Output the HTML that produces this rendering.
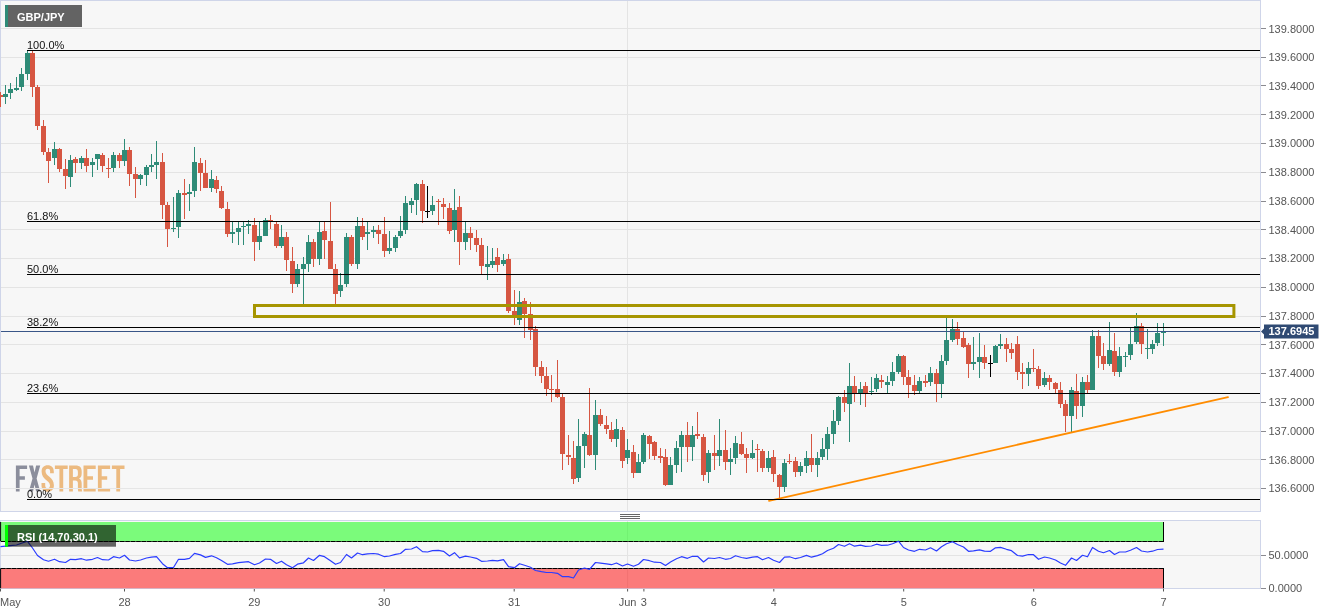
<!DOCTYPE html>
<html><head><meta charset="utf-8"><title>GBP/JPY</title>
<style>
html,body{margin:0;padding:0;background:#fff;}
body{width:1331px;height:615px;overflow:hidden;}
svg{display:block;will-change:transform;}
text{font-family:"Liberation Sans",sans-serif;}
</style></head><body>
<svg width="1331" height="615" viewBox="0 0 1331 615">
<rect x="0" y="0" width="1331" height="615" fill="#fff"/>
<rect x="0.5" y="0.5" width="1260" height="511" fill="#f7f7f7" stroke="#cfd5e9" stroke-width="1"/>
<rect x="0.5" y="520.5" width="1260" height="68" fill="#f7f7f7" stroke="#cfd5e9" stroke-width="1"/>
<defs><clipPath id="cm"><rect x="0" y="1" width="1260" height="510"/></clipPath><clipPath id="cr"><rect x="0" y="521" width="1259" height="67.5"/></clipPath></defs>
<g stroke="#e4e4e4" stroke-width="1" clip-path="url(#cm)">
<line x1="1" x2="1260" y1="28.50" y2="28.50"/>
<line x1="1" x2="1260" y1="57.50" y2="57.50"/>
<line x1="1" x2="1260" y1="85.50" y2="85.50"/>
<line x1="1" x2="1260" y1="114.50" y2="114.50"/>
<line x1="1" x2="1260" y1="143.50" y2="143.50"/>
<line x1="1" x2="1260" y1="172.50" y2="172.50"/>
<line x1="1" x2="1260" y1="201.50" y2="201.50"/>
<line x1="1" x2="1260" y1="229.50" y2="229.50"/>
<line x1="1" x2="1260" y1="258.50" y2="258.50"/>
<line x1="1" x2="1260" y1="287.50" y2="287.50"/>
<line x1="1" x2="1260" y1="316.50" y2="316.50"/>
<line x1="1" x2="1260" y1="344.50" y2="344.50"/>
<line x1="1" x2="1260" y1="373.50" y2="373.50"/>
<line x1="1" x2="1260" y1="402.50" y2="402.50"/>
<line x1="1" x2="1260" y1="431.50" y2="431.50"/>
<line x1="1" x2="1260" y1="459.50" y2="459.50"/>
<line x1="1" x2="1260" y1="488.50" y2="488.50"/>
<line x1="627.5" x2="627.5" y1="1" y2="511"/>
</g>
<g stroke="#e4e4e4" stroke-width="1"><line x1="1" x2="1260" y1="555.5" y2="555.5"/><line x1="627.5" x2="627.6" y1="521" y2="588"/></g>
<g id="logo">
<g fill="#8b8e9c">
<path d="M15.9,465.6H27.1V469H19.6V476.2H24.9V479.7H19.6V491.4H15.9Z"/>
<path d="M28.9,465.6H33L34.55,472.6L36.1,465.6H40.2L36.6,478.5L40.2,491.4H36.1L34.55,484.4L33,491.4H28.9L32.5,478.5Z"/>
</g>
<g fill="#ecba80">
<path d="M47.7,465.3C51.6,465.3 53.8,467.6 53.8,471.5V473.2H50.1V471.3C50.1,469.6 49.3,468.8 47.8,468.8C46.3,468.8 45.5,469.6 45.5,471.3C45.5,476.3 53.9,477.2 53.9,485.2C53.9,489.2 51.7,491.7 47.7,491.7C43.7,491.7 41.5,489.2 41.5,485.2V483H45.2V485.5C45.2,487.2 46,488.1 47.6,488.1C49.2,488.1 50,487.2 50,485.5C50,480.5 41.6,479.6 41.6,471.5C41.6,467.6 43.8,465.3 47.7,465.3Z"/>
<path d="M54.9,465.6H67.7V469H63.2V491.4H59.4V469H54.9Z"/>
<path d="M69.1,465.6H75.6C79.8,465.6 81.7,467.6 81.7,471.6V473.5C81.7,476.1 80.8,477.8 79,478.6C81,479.4 81.7,481.2 81.7,483.8V488C81.7,489.3 81.8,490.3 82.2,491.4H78.3C78.1,490.7 77.9,490.3 77.9,488V483.6C77.9,481.3 77.1,480.5 75.1,480.5H72.9V491.4H69.1ZM72.9,469V477H75.3C77,477 77.9,476.3 77.9,474.3V472C77.9,470 77.2,469 75.5,469Z"/>
<path d="M83.5,465.6H95.7V469H87.3V476.2H93V479.7H87.3V487.9H95.7V491.4H83.5Z"/>
<path d="M97.9,465.6H110.1V469H101.7V476.2H107.2V479.7H101.7V487.9H110.1V491.4H97.9Z"/>
<path d="M111.9,465.6H124.5V469H120.1V491.4H116.3V469H111.9Z"/>
</g>
</g>
<line x1="1" x2="1260" y1="488.5" y2="488.5" stroke="#e6e6e6" stroke-width="1.2"/>
<g clip-path="url(#cm)">
<rect x="0.0" y="92" width="1" height="15" fill="#d65642"/>
<rect x="-2.0" y="95" width="5" height="2" fill="#d65642"/>
<rect x="5.0" y="85" width="1" height="19" fill="#2e8b77"/>
<rect x="3.0" y="94" width="5" height="3" fill="#2e8b77"/>
<rect x="10.0" y="83" width="1" height="16" fill="#2e8b77"/>
<rect x="8.0" y="89" width="5" height="4" fill="#2e8b77"/>
<rect x="16.0" y="77" width="1" height="14" fill="#2e8b77"/>
<rect x="14.0" y="88" width="5" height="2" fill="#2e8b77"/>
<rect x="21.0" y="68" width="1" height="23" fill="#2e8b77"/>
<rect x="19.0" y="74" width="5" height="13" fill="#2e8b77"/>
<rect x="27.0" y="50" width="1" height="30" fill="#2e8b77"/>
<rect x="25.0" y="53" width="5" height="21" fill="#2e8b77"/>
<rect x="32.0" y="51" width="1" height="46" fill="#d65642"/>
<rect x="30.0" y="53" width="5" height="34" fill="#d65642"/>
<rect x="37.0" y="85" width="1" height="45" fill="#d65642"/>
<rect x="35.0" y="87" width="5" height="39" fill="#d65642"/>
<rect x="43.0" y="120" width="1" height="35" fill="#d65642"/>
<rect x="41.0" y="126" width="5" height="26" fill="#d65642"/>
<rect x="48.0" y="148" width="1" height="35" fill="#d65642"/>
<rect x="46.0" y="152" width="5" height="9" fill="#d65642"/>
<rect x="54.0" y="142" width="1" height="23" fill="#2e8b77"/>
<rect x="52.0" y="149" width="5" height="9" fill="#2e8b77"/>
<rect x="59.0" y="148" width="1" height="24" fill="#d65642"/>
<rect x="57.0" y="149" width="5" height="20" fill="#d65642"/>
<rect x="65.0" y="159" width="1" height="30" fill="#d65642"/>
<rect x="63.0" y="169" width="5" height="7" fill="#d65642"/>
<rect x="70.0" y="155" width="1" height="32" fill="#2e8b77"/>
<rect x="68.0" y="160" width="5" height="17" fill="#2e8b77"/>
<rect x="75.0" y="157" width="1" height="16" fill="#d65642"/>
<rect x="73.0" y="159" width="5" height="4" fill="#d65642"/>
<rect x="81.0" y="156" width="1" height="13" fill="#2e8b77"/>
<rect x="79.0" y="158" width="5" height="5" fill="#2e8b77"/>
<rect x="86.0" y="149" width="1" height="23" fill="#d65642"/>
<rect x="84.0" y="158" width="5" height="8" fill="#d65642"/>
<rect x="92.0" y="158" width="1" height="19" fill="#2e8b77"/>
<rect x="90.0" y="162" width="5" height="3" fill="#2e8b77"/>
<rect x="97.0" y="154" width="1" height="16" fill="#2e8b77"/>
<rect x="95.0" y="154" width="5" height="5" fill="#2e8b77"/>
<rect x="102.0" y="153" width="1" height="19" fill="#d65642"/>
<rect x="100.0" y="155" width="5" height="11" fill="#d65642"/>
<rect x="108.0" y="158" width="1" height="20" fill="#d65642"/>
<rect x="106.0" y="168" width="5" height="1" fill="#d65642"/>
<rect x="113.0" y="152" width="1" height="20" fill="#2e8b77"/>
<rect x="111.0" y="155" width="5" height="13" fill="#2e8b77"/>
<rect x="119.0" y="153" width="1" height="15" fill="#d65642"/>
<rect x="117.0" y="155" width="5" height="6" fill="#d65642"/>
<rect x="124.0" y="139" width="1" height="27" fill="#2e8b77"/>
<rect x="122.0" y="150" width="5" height="11" fill="#2e8b77"/>
<rect x="129.0" y="147" width="1" height="39" fill="#d65642"/>
<rect x="127.0" y="150" width="5" height="24" fill="#d65642"/>
<rect x="135.0" y="167" width="1" height="31" fill="#d65642"/>
<rect x="133.0" y="174" width="5" height="5" fill="#d65642"/>
<rect x="140.0" y="174" width="1" height="11" fill="#2e8b77"/>
<rect x="138.0" y="175" width="5" height="4" fill="#2e8b77"/>
<rect x="146.0" y="165" width="1" height="21" fill="#2e8b77"/>
<rect x="144.0" y="167" width="5" height="8" fill="#2e8b77"/>
<rect x="151.0" y="154" width="1" height="18" fill="#2e8b77"/>
<rect x="149.0" y="165" width="5" height="2" fill="#2e8b77"/>
<rect x="156.0" y="141" width="1" height="38" fill="#2e8b77"/>
<rect x="154.0" y="162" width="5" height="3" fill="#2e8b77"/>
<rect x="162.0" y="153" width="1" height="66" fill="#d65642"/>
<rect x="160.0" y="162" width="5" height="43" fill="#d65642"/>
<rect x="167.0" y="202" width="1" height="45" fill="#d65642"/>
<rect x="165.0" y="205" width="5" height="24" fill="#d65642"/>
<rect x="173.0" y="197" width="1" height="35" fill="#2e8b77"/>
<rect x="171.0" y="228" width="5" height="1" fill="#2e8b77"/>
<rect x="178.0" y="190" width="1" height="48" fill="#2e8b77"/>
<rect x="176.0" y="193" width="5" height="34" fill="#2e8b77"/>
<rect x="184.0" y="179" width="1" height="40" fill="#d65642"/>
<rect x="182.0" y="193" width="5" height="2" fill="#d65642"/>
<rect x="189.0" y="184" width="1" height="27" fill="#2e8b77"/>
<rect x="187.0" y="192" width="5" height="2" fill="#2e8b77"/>
<rect x="194.0" y="147" width="1" height="50" fill="#2e8b77"/>
<rect x="192.0" y="162" width="5" height="29" fill="#2e8b77"/>
<rect x="200.0" y="158" width="1" height="33" fill="#d65642"/>
<rect x="198.0" y="163" width="5" height="10" fill="#d65642"/>
<rect x="205.0" y="160" width="1" height="28" fill="#d65642"/>
<rect x="203.0" y="173" width="5" height="15" fill="#d65642"/>
<rect x="211.0" y="170" width="1" height="22" fill="#2e8b77"/>
<rect x="209.0" y="179" width="5" height="9" fill="#2e8b77"/>
<rect x="216.0" y="176" width="1" height="17" fill="#d65642"/>
<rect x="214.0" y="180" width="5" height="9" fill="#d65642"/>
<rect x="221.0" y="186" width="1" height="23" fill="#d65642"/>
<rect x="219.0" y="191" width="5" height="17" fill="#d65642"/>
<rect x="227.0" y="202" width="1" height="35" fill="#d65642"/>
<rect x="225.0" y="209" width="5" height="25" fill="#d65642"/>
<rect x="232.0" y="222" width="1" height="21" fill="#2e8b77"/>
<rect x="230.0" y="232" width="5" height="2" fill="#2e8b77"/>
<rect x="238.0" y="222" width="1" height="23" fill="#2e8b77"/>
<rect x="236.0" y="228" width="5" height="4" fill="#2e8b77"/>
<rect x="243.0" y="222" width="1" height="23" fill="#2e8b77"/>
<rect x="241.0" y="226" width="5" height="1" fill="#2e8b77"/>
<rect x="248.0" y="220" width="1" height="14" fill="#2e8b77"/>
<rect x="246.0" y="224" width="5" height="2" fill="#2e8b77"/>
<rect x="254.0" y="218" width="1" height="43" fill="#d65642"/>
<rect x="252.0" y="225" width="5" height="17" fill="#d65642"/>
<rect x="259.0" y="221" width="1" height="29" fill="#2e8b77"/>
<rect x="257.0" y="236" width="5" height="6" fill="#2e8b77"/>
<rect x="265.0" y="218" width="1" height="18" fill="#2e8b77"/>
<rect x="263.0" y="220" width="5" height="16" fill="#2e8b77"/>
<rect x="270.0" y="215" width="1" height="14" fill="#d65642"/>
<rect x="268.0" y="220" width="5" height="2" fill="#d65642"/>
<rect x="276.0" y="222" width="1" height="26" fill="#d65642"/>
<rect x="274.0" y="224" width="5" height="22" fill="#d65642"/>
<rect x="281.0" y="225" width="1" height="23" fill="#2e8b77"/>
<rect x="279.0" y="237" width="5" height="9" fill="#2e8b77"/>
<rect x="286.0" y="232" width="1" height="39" fill="#d65642"/>
<rect x="284.0" y="237" width="5" height="23" fill="#d65642"/>
<rect x="292.0" y="247" width="1" height="46" fill="#d65642"/>
<rect x="290.0" y="261" width="5" height="23" fill="#d65642"/>
<rect x="297.0" y="264" width="1" height="23" fill="#2e8b77"/>
<rect x="295.0" y="269" width="5" height="15" fill="#2e8b77"/>
<rect x="303.0" y="257" width="1" height="47" fill="#2e8b77"/>
<rect x="301.0" y="264" width="5" height="5" fill="#2e8b77"/>
<rect x="308.0" y="235" width="1" height="37" fill="#2e8b77"/>
<rect x="306.0" y="242" width="5" height="22" fill="#2e8b77"/>
<rect x="313.0" y="239" width="1" height="28" fill="#d65642"/>
<rect x="311.0" y="242" width="5" height="17" fill="#d65642"/>
<rect x="319.0" y="222" width="1" height="43" fill="#2e8b77"/>
<rect x="317.0" y="232" width="5" height="27" fill="#2e8b77"/>
<rect x="324.0" y="222" width="1" height="37" fill="#d65642"/>
<rect x="322.0" y="231" width="5" height="9" fill="#d65642"/>
<rect x="330.0" y="202" width="1" height="67" fill="#d65642"/>
<rect x="328.0" y="241" width="5" height="28" fill="#d65642"/>
<rect x="335.0" y="264" width="1" height="40" fill="#d65642"/>
<rect x="333.0" y="269" width="5" height="25" fill="#d65642"/>
<rect x="340.0" y="273" width="1" height="24" fill="#2e8b77"/>
<rect x="338.0" y="285" width="5" height="6" fill="#2e8b77"/>
<rect x="346.0" y="233" width="1" height="54" fill="#2e8b77"/>
<rect x="344.0" y="237" width="5" height="47" fill="#2e8b77"/>
<rect x="351.0" y="235" width="1" height="31" fill="#d65642"/>
<rect x="349.0" y="237" width="5" height="27" fill="#d65642"/>
<rect x="357.0" y="217" width="1" height="52" fill="#2e8b77"/>
<rect x="355.0" y="226" width="5" height="38" fill="#2e8b77"/>
<rect x="362.0" y="218" width="1" height="22" fill="#d65642"/>
<rect x="360.0" y="226" width="5" height="11" fill="#d65642"/>
<rect x="367.0" y="221" width="1" height="29" fill="#2e8b77"/>
<rect x="365.0" y="232" width="5" height="2" fill="#2e8b77"/>
<rect x="373.0" y="226" width="1" height="12" fill="#2e8b77"/>
<rect x="371.0" y="230" width="5" height="2" fill="#2e8b77"/>
<rect x="378.0" y="225" width="1" height="19" fill="#d65642"/>
<rect x="376.0" y="230" width="5" height="4" fill="#d65642"/>
<rect x="384.0" y="217" width="1" height="40" fill="#d65642"/>
<rect x="382.0" y="234" width="5" height="17" fill="#d65642"/>
<rect x="389.0" y="231" width="1" height="23" fill="#2e8b77"/>
<rect x="387.0" y="248" width="5" height="3" fill="#2e8b77"/>
<rect x="395.0" y="235" width="1" height="17" fill="#2e8b77"/>
<rect x="393.0" y="237" width="5" height="11" fill="#2e8b77"/>
<rect x="400.0" y="216" width="1" height="22" fill="#2e8b77"/>
<rect x="398.0" y="231" width="5" height="5" fill="#2e8b77"/>
<rect x="405.0" y="196" width="1" height="38" fill="#2e8b77"/>
<rect x="403.0" y="203" width="5" height="27" fill="#2e8b77"/>
<rect x="411.0" y="198" width="1" height="15" fill="#2e8b77"/>
<rect x="409.0" y="201" width="5" height="4" fill="#2e8b77"/>
<rect x="416.0" y="183" width="1" height="32" fill="#2e8b77"/>
<rect x="414.0" y="184" width="5" height="16" fill="#2e8b77"/>
<rect x="422.0" y="180" width="1" height="43" fill="#d65642"/>
<rect x="420.0" y="184" width="5" height="27" fill="#d65642"/>
<rect x="427.0" y="186" width="1" height="32" fill="#000"/>
<rect x="425.0" y="211" width="5" height="1" fill="#000"/>
<rect x="432.0" y="196" width="1" height="19" fill="#2e8b77"/>
<rect x="430.0" y="205" width="5" height="6" fill="#2e8b77"/>
<rect x="438.0" y="199" width="1" height="26" fill="#d65642"/>
<rect x="436.0" y="201" width="5" height="1" fill="#d65642"/>
<rect x="443.0" y="198" width="1" height="21" fill="#d65642"/>
<rect x="441.0" y="204" width="5" height="3" fill="#d65642"/>
<rect x="449.0" y="203" width="1" height="31" fill="#d65642"/>
<rect x="447.0" y="208" width="5" height="23" fill="#d65642"/>
<rect x="454.0" y="189" width="1" height="53" fill="#2e8b77"/>
<rect x="452.0" y="210" width="5" height="20" fill="#2e8b77"/>
<rect x="459.0" y="196" width="1" height="69" fill="#d65642"/>
<rect x="457.0" y="207" width="5" height="35" fill="#d65642"/>
<rect x="465.0" y="222" width="1" height="28" fill="#2e8b77"/>
<rect x="463.0" y="233" width="5" height="9" fill="#2e8b77"/>
<rect x="470.0" y="227" width="1" height="23" fill="#d65642"/>
<rect x="468.0" y="233" width="5" height="5" fill="#d65642"/>
<rect x="476.0" y="230" width="1" height="22" fill="#d65642"/>
<rect x="474.0" y="238" width="5" height="7" fill="#d65642"/>
<rect x="481.0" y="238" width="1" height="36" fill="#d65642"/>
<rect x="479.0" y="245" width="5" height="21" fill="#d65642"/>
<rect x="487.0" y="246" width="1" height="34" fill="#2e8b77"/>
<rect x="485.0" y="264" width="5" height="3" fill="#2e8b77"/>
<rect x="492.0" y="248" width="1" height="20" fill="#2e8b77"/>
<rect x="490.0" y="261" width="5" height="4" fill="#2e8b77"/>
<rect x="497.0" y="248" width="1" height="24" fill="#d65642"/>
<rect x="495.0" y="257" width="5" height="8" fill="#d65642"/>
<rect x="503.0" y="254" width="1" height="12" fill="#2e8b77"/>
<rect x="501.0" y="260" width="5" height="4" fill="#2e8b77"/>
<rect x="508.0" y="254" width="1" height="59" fill="#d65642"/>
<rect x="506.0" y="259" width="5" height="52" fill="#d65642"/>
<rect x="514.0" y="290" width="1" height="35" fill="#d65642"/>
<rect x="512.0" y="311" width="5" height="4" fill="#d65642"/>
<rect x="519.0" y="291" width="1" height="34" fill="#2e8b77"/>
<rect x="517.0" y="302" width="5" height="18" fill="#2e8b77"/>
<rect x="524.0" y="298" width="1" height="40" fill="#d65642"/>
<rect x="522.0" y="301" width="5" height="13" fill="#d65642"/>
<rect x="530.0" y="302" width="1" height="38" fill="#d65642"/>
<rect x="528.0" y="314" width="5" height="16" fill="#d65642"/>
<rect x="535.0" y="326" width="1" height="50" fill="#d65642"/>
<rect x="533.0" y="329" width="5" height="38" fill="#d65642"/>
<rect x="541.0" y="361" width="1" height="22" fill="#d65642"/>
<rect x="539.0" y="367" width="5" height="9" fill="#d65642"/>
<rect x="546.0" y="367" width="1" height="29" fill="#d65642"/>
<rect x="544.0" y="376" width="5" height="13" fill="#d65642"/>
<rect x="551.0" y="375" width="1" height="27" fill="#d65642"/>
<rect x="549.0" y="389" width="5" height="1" fill="#d65642"/>
<rect x="557.0" y="360" width="1" height="38" fill="#d65642"/>
<rect x="555.0" y="389" width="5" height="8" fill="#d65642"/>
<rect x="562.0" y="394" width="1" height="76" fill="#d65642"/>
<rect x="560.0" y="397" width="5" height="57" fill="#d65642"/>
<rect x="568.0" y="435" width="1" height="30" fill="#d65642"/>
<rect x="566.0" y="455" width="5" height="2" fill="#d65642"/>
<rect x="573.0" y="441" width="1" height="43" fill="#d65642"/>
<rect x="571.0" y="458" width="5" height="21" fill="#d65642"/>
<rect x="578.0" y="419" width="1" height="63" fill="#2e8b77"/>
<rect x="576.0" y="446" width="5" height="32" fill="#2e8b77"/>
<rect x="584.0" y="432" width="1" height="36" fill="#2e8b77"/>
<rect x="582.0" y="434" width="5" height="12" fill="#2e8b77"/>
<rect x="589.0" y="388" width="1" height="68" fill="#d65642"/>
<rect x="587.0" y="435" width="5" height="20" fill="#d65642"/>
<rect x="595.0" y="400" width="1" height="70" fill="#2e8b77"/>
<rect x="593.0" y="415" width="5" height="40" fill="#2e8b77"/>
<rect x="600.0" y="409" width="1" height="17" fill="#d65642"/>
<rect x="598.0" y="415" width="5" height="9" fill="#d65642"/>
<rect x="606.0" y="416" width="1" height="18" fill="#d65642"/>
<rect x="604.0" y="425" width="5" height="4" fill="#d65642"/>
<rect x="611.0" y="422" width="1" height="20" fill="#d65642"/>
<rect x="609.0" y="430" width="5" height="9" fill="#d65642"/>
<rect x="616.0" y="419" width="1" height="28" fill="#2e8b77"/>
<rect x="614.0" y="429" width="5" height="10" fill="#2e8b77"/>
<rect x="622.0" y="427" width="1" height="41" fill="#d65642"/>
<rect x="620.0" y="430" width="5" height="31" fill="#d65642"/>
<rect x="627.0" y="439" width="1" height="25" fill="#2e8b77"/>
<rect x="625.0" y="450" width="5" height="8" fill="#2e8b77"/>
<rect x="633.0" y="445" width="1" height="33" fill="#d65642"/>
<rect x="631.0" y="452" width="5" height="21" fill="#d65642"/>
<rect x="638.0" y="454" width="1" height="19" fill="#2e8b77"/>
<rect x="636.0" y="462" width="5" height="11" fill="#2e8b77"/>
<rect x="643.0" y="433" width="1" height="31" fill="#2e8b77"/>
<rect x="641.0" y="435" width="5" height="27" fill="#2e8b77"/>
<rect x="649.0" y="435" width="1" height="24" fill="#d65642"/>
<rect x="647.0" y="436" width="5" height="8" fill="#d65642"/>
<rect x="654.0" y="441" width="1" height="19" fill="#d65642"/>
<rect x="652.0" y="442" width="5" height="14" fill="#d65642"/>
<rect x="660.0" y="448" width="1" height="15" fill="#d65642"/>
<rect x="658.0" y="456" width="5" height="2" fill="#d65642"/>
<rect x="665.0" y="449" width="1" height="37" fill="#d65642"/>
<rect x="663.0" y="457" width="5" height="28" fill="#d65642"/>
<rect x="670.0" y="457" width="1" height="28" fill="#2e8b77"/>
<rect x="668.0" y="465" width="5" height="20" fill="#2e8b77"/>
<rect x="676.0" y="441" width="1" height="32" fill="#2e8b77"/>
<rect x="674.0" y="448" width="5" height="17" fill="#2e8b77"/>
<rect x="681.0" y="431" width="1" height="41" fill="#2e8b77"/>
<rect x="679.0" y="435" width="5" height="12" fill="#2e8b77"/>
<rect x="687.0" y="422" width="1" height="40" fill="#d65642"/>
<rect x="685.0" y="435" width="5" height="12" fill="#d65642"/>
<rect x="692.0" y="426" width="1" height="35" fill="#2e8b77"/>
<rect x="690.0" y="435" width="5" height="12" fill="#2e8b77"/>
<rect x="697.0" y="412" width="1" height="27" fill="#d65642"/>
<rect x="695.0" y="434" width="5" height="2" fill="#d65642"/>
<rect x="703.0" y="434" width="1" height="47" fill="#d65642"/>
<rect x="701.0" y="437" width="5" height="38" fill="#d65642"/>
<rect x="708.0" y="450" width="1" height="33" fill="#2e8b77"/>
<rect x="706.0" y="453" width="5" height="19" fill="#2e8b77"/>
<rect x="714.0" y="435" width="1" height="35" fill="#d65642"/>
<rect x="712.0" y="453" width="5" height="3" fill="#d65642"/>
<rect x="719.0" y="419" width="1" height="47" fill="#2e8b77"/>
<rect x="717.0" y="450" width="5" height="6" fill="#2e8b77"/>
<rect x="725.0" y="430" width="1" height="40" fill="#d65642"/>
<rect x="723.0" y="450" width="5" height="12" fill="#d65642"/>
<rect x="730.0" y="448" width="1" height="27" fill="#2e8b77"/>
<rect x="728.0" y="459" width="5" height="3" fill="#2e8b77"/>
<rect x="735.0" y="436" width="1" height="28" fill="#2e8b77"/>
<rect x="733.0" y="443" width="5" height="15" fill="#2e8b77"/>
<rect x="741.0" y="432" width="1" height="23" fill="#d65642"/>
<rect x="739.0" y="444" width="5" height="10" fill="#d65642"/>
<rect x="746.0" y="448" width="1" height="25" fill="#d65642"/>
<rect x="744.0" y="454" width="5" height="4" fill="#d65642"/>
<rect x="752.0" y="440" width="1" height="19" fill="#2e8b77"/>
<rect x="750.0" y="453" width="5" height="5" fill="#2e8b77"/>
<rect x="757.0" y="444" width="1" height="28" fill="#d65642"/>
<rect x="755.0" y="449" width="5" height="1" fill="#d65642"/>
<rect x="762.0" y="449" width="1" height="23" fill="#d65642"/>
<rect x="760.0" y="451" width="5" height="17" fill="#d65642"/>
<rect x="768.0" y="451" width="1" height="21" fill="#2e8b77"/>
<rect x="766.0" y="458" width="5" height="10" fill="#2e8b77"/>
<rect x="773.0" y="450" width="1" height="32" fill="#d65642"/>
<rect x="771.0" y="457" width="5" height="17" fill="#d65642"/>
<rect x="779.0" y="474" width="1" height="24" fill="#d65642"/>
<rect x="777.0" y="475" width="5" height="12" fill="#d65642"/>
<rect x="784.0" y="459" width="1" height="33" fill="#2e8b77"/>
<rect x="782.0" y="463" width="5" height="24" fill="#2e8b77"/>
<rect x="789.0" y="454" width="1" height="10" fill="#d65642"/>
<rect x="787.0" y="461" width="5" height="1" fill="#d65642"/>
<rect x="795.0" y="457" width="1" height="20" fill="#d65642"/>
<rect x="793.0" y="461" width="5" height="11" fill="#d65642"/>
<rect x="800.0" y="462" width="1" height="14" fill="#2e8b77"/>
<rect x="798.0" y="466" width="5" height="6" fill="#2e8b77"/>
<rect x="806.0" y="451" width="1" height="22" fill="#2e8b77"/>
<rect x="804.0" y="458" width="5" height="8" fill="#2e8b77"/>
<rect x="811.0" y="434" width="1" height="38" fill="#d65642"/>
<rect x="809.0" y="458" width="5" height="7" fill="#d65642"/>
<rect x="817.0" y="452" width="1" height="25" fill="#2e8b77"/>
<rect x="815.0" y="458" width="5" height="7" fill="#2e8b77"/>
<rect x="822.0" y="438" width="1" height="22" fill="#2e8b77"/>
<rect x="820.0" y="449" width="5" height="8" fill="#2e8b77"/>
<rect x="827.0" y="427" width="1" height="33" fill="#2e8b77"/>
<rect x="825.0" y="434" width="5" height="15" fill="#2e8b77"/>
<rect x="833.0" y="410" width="1" height="34" fill="#2e8b77"/>
<rect x="831.0" y="421" width="5" height="13" fill="#2e8b77"/>
<rect x="838.0" y="396" width="1" height="29" fill="#2e8b77"/>
<rect x="836.0" y="397" width="5" height="24" fill="#2e8b77"/>
<rect x="844.0" y="390" width="1" height="22" fill="#d65642"/>
<rect x="842.0" y="397" width="5" height="6" fill="#d65642"/>
<rect x="849.0" y="363" width="1" height="79" fill="#2e8b77"/>
<rect x="847.0" y="386" width="5" height="18" fill="#2e8b77"/>
<rect x="854.0" y="376" width="1" height="26" fill="#d65642"/>
<rect x="852.0" y="386" width="5" height="8" fill="#d65642"/>
<rect x="860.0" y="382" width="1" height="23" fill="#2e8b77"/>
<rect x="858.0" y="389" width="5" height="5" fill="#2e8b77"/>
<rect x="865.0" y="382" width="1" height="25" fill="#d65642"/>
<rect x="863.0" y="386" width="5" height="7" fill="#d65642"/>
<rect x="871.0" y="377" width="1" height="18" fill="#2e8b77"/>
<rect x="869.0" y="391" width="5" height="1" fill="#2e8b77"/>
<rect x="876.0" y="374" width="1" height="18" fill="#2e8b77"/>
<rect x="874.0" y="378" width="5" height="11" fill="#2e8b77"/>
<rect x="881.0" y="375" width="1" height="13" fill="#d65642"/>
<rect x="879.0" y="380" width="5" height="2" fill="#d65642"/>
<rect x="887.0" y="376" width="1" height="17" fill="#2e8b77"/>
<rect x="885.0" y="382" width="5" height="3" fill="#2e8b77"/>
<rect x="892.0" y="362" width="1" height="24" fill="#2e8b77"/>
<rect x="890.0" y="372" width="5" height="9" fill="#2e8b77"/>
<rect x="898.0" y="354" width="1" height="20" fill="#2e8b77"/>
<rect x="896.0" y="356" width="5" height="16" fill="#2e8b77"/>
<rect x="903.0" y="355" width="1" height="30" fill="#d65642"/>
<rect x="901.0" y="356" width="5" height="21" fill="#d65642"/>
<rect x="908.0" y="370" width="1" height="28" fill="#d65642"/>
<rect x="906.0" y="377" width="5" height="8" fill="#d65642"/>
<rect x="914.0" y="375" width="1" height="20" fill="#d65642"/>
<rect x="912.0" y="385" width="5" height="6" fill="#d65642"/>
<rect x="919.0" y="377" width="1" height="16" fill="#2e8b77"/>
<rect x="917.0" y="381" width="5" height="10" fill="#2e8b77"/>
<rect x="925.0" y="375" width="1" height="12" fill="#d65642"/>
<rect x="923.0" y="381" width="5" height="2" fill="#d65642"/>
<rect x="930.0" y="367" width="1" height="19" fill="#2e8b77"/>
<rect x="928.0" y="373" width="5" height="9" fill="#2e8b77"/>
<rect x="936.0" y="369" width="1" height="33" fill="#d65642"/>
<rect x="934.0" y="373" width="5" height="11" fill="#d65642"/>
<rect x="941.0" y="355" width="1" height="43" fill="#2e8b77"/>
<rect x="939.0" y="361" width="5" height="23" fill="#2e8b77"/>
<rect x="946.0" y="318" width="1" height="47" fill="#2e8b77"/>
<rect x="944.0" y="340" width="5" height="21" fill="#2e8b77"/>
<rect x="952.0" y="319" width="1" height="23" fill="#2e8b77"/>
<rect x="950.0" y="329" width="5" height="11" fill="#2e8b77"/>
<rect x="957.0" y="322" width="1" height="23" fill="#d65642"/>
<rect x="955.0" y="329" width="5" height="10" fill="#d65642"/>
<rect x="963.0" y="332" width="1" height="16" fill="#d65642"/>
<rect x="961.0" y="338" width="5" height="9" fill="#d65642"/>
<rect x="968.0" y="343" width="1" height="35" fill="#d65642"/>
<rect x="966.0" y="345" width="5" height="19" fill="#d65642"/>
<rect x="973.0" y="337" width="1" height="33" fill="#2e8b77"/>
<rect x="971.0" y="362" width="5" height="2" fill="#2e8b77"/>
<rect x="979.0" y="333" width="1" height="45" fill="#2e8b77"/>
<rect x="977.0" y="357" width="5" height="5" fill="#2e8b77"/>
<rect x="984.0" y="345" width="1" height="24" fill="#d65642"/>
<rect x="982.0" y="357" width="5" height="6" fill="#d65642"/>
<rect x="990.0" y="355" width="1" height="22" fill="#000"/>
<rect x="988.0" y="363" width="5" height="1" fill="#000"/>
<rect x="995.0" y="345" width="1" height="18" fill="#2e8b77"/>
<rect x="993.0" y="346" width="5" height="17" fill="#2e8b77"/>
<rect x="1000.0" y="334" width="1" height="15" fill="#2e8b77"/>
<rect x="998.0" y="344" width="5" height="2" fill="#2e8b77"/>
<rect x="1006.0" y="338" width="1" height="24" fill="#d65642"/>
<rect x="1004.0" y="344" width="5" height="5" fill="#d65642"/>
<rect x="1011.0" y="343" width="1" height="16" fill="#d65642"/>
<rect x="1009.0" y="349" width="5" height="4" fill="#d65642"/>
<rect x="1017.0" y="336" width="1" height="44" fill="#d65642"/>
<rect x="1015.0" y="344" width="5" height="28" fill="#d65642"/>
<rect x="1022.0" y="363" width="1" height="26" fill="#d65642"/>
<rect x="1020.0" y="372" width="5" height="2" fill="#d65642"/>
<rect x="1028.0" y="362" width="1" height="24" fill="#2e8b77"/>
<rect x="1026.0" y="368" width="5" height="6" fill="#2e8b77"/>
<rect x="1033.0" y="349" width="1" height="23" fill="#d65642"/>
<rect x="1031.0" y="368" width="5" height="1" fill="#d65642"/>
<rect x="1038.0" y="366" width="1" height="23" fill="#d65642"/>
<rect x="1036.0" y="369" width="5" height="17" fill="#d65642"/>
<rect x="1044.0" y="372" width="1" height="15" fill="#2e8b77"/>
<rect x="1042.0" y="378" width="5" height="7" fill="#2e8b77"/>
<rect x="1049.0" y="375" width="1" height="15" fill="#d65642"/>
<rect x="1047.0" y="378" width="5" height="4" fill="#d65642"/>
<rect x="1055.0" y="382" width="1" height="11" fill="#d65642"/>
<rect x="1053.0" y="383" width="5" height="6" fill="#d65642"/>
<rect x="1060.0" y="382" width="1" height="26" fill="#d65642"/>
<rect x="1058.0" y="390" width="5" height="14" fill="#d65642"/>
<rect x="1065.0" y="400" width="1" height="32" fill="#d65642"/>
<rect x="1063.0" y="404" width="5" height="12" fill="#d65642"/>
<rect x="1071.0" y="387" width="1" height="45" fill="#2e8b77"/>
<rect x="1069.0" y="390" width="5" height="26" fill="#2e8b77"/>
<rect x="1076.0" y="374" width="1" height="45" fill="#d65642"/>
<rect x="1074.0" y="391" width="5" height="15" fill="#d65642"/>
<rect x="1082.0" y="377" width="1" height="40" fill="#2e8b77"/>
<rect x="1080.0" y="382" width="5" height="24" fill="#2e8b77"/>
<rect x="1087.0" y="375" width="1" height="18" fill="#d65642"/>
<rect x="1085.0" y="382" width="5" height="8" fill="#d65642"/>
<rect x="1092.0" y="330" width="1" height="60" fill="#2e8b77"/>
<rect x="1090.0" y="336" width="5" height="54" fill="#2e8b77"/>
<rect x="1098.0" y="330" width="1" height="38" fill="#d65642"/>
<rect x="1096.0" y="336" width="5" height="20" fill="#d65642"/>
<rect x="1103.0" y="343" width="1" height="27" fill="#d65642"/>
<rect x="1101.0" y="356" width="5" height="8" fill="#d65642"/>
<rect x="1109.0" y="322" width="1" height="44" fill="#2e8b77"/>
<rect x="1107.0" y="350" width="5" height="14" fill="#2e8b77"/>
<rect x="1114.0" y="333" width="1" height="43" fill="#d65642"/>
<rect x="1112.0" y="351" width="5" height="21" fill="#d65642"/>
<rect x="1119.0" y="347" width="1" height="30" fill="#2e8b77"/>
<rect x="1117.0" y="356" width="5" height="16" fill="#2e8b77"/>
<rect x="1125.0" y="352" width="1" height="15" fill="#2e8b77"/>
<rect x="1123.0" y="356" width="5" height="1" fill="#2e8b77"/>
<rect x="1130.0" y="328" width="1" height="32" fill="#2e8b77"/>
<rect x="1128.0" y="344" width="5" height="11" fill="#2e8b77"/>
<rect x="1136.0" y="313" width="1" height="31" fill="#2e8b77"/>
<rect x="1134.0" y="326" width="5" height="16" fill="#2e8b77"/>
<rect x="1141.0" y="323" width="1" height="31" fill="#d65642"/>
<rect x="1139.0" y="326" width="5" height="18" fill="#d65642"/>
<rect x="1147.0" y="329" width="1" height="30" fill="#2e8b77"/>
<rect x="1145.0" y="348" width="5" height="1" fill="#2e8b77"/>
<rect x="1152.0" y="340" width="1" height="14" fill="#2e8b77"/>
<rect x="1150.0" y="344" width="5" height="5" fill="#2e8b77"/>
<rect x="1157.0" y="323" width="1" height="23" fill="#2e8b77"/>
<rect x="1155.0" y="333" width="5" height="10" fill="#2e8b77"/>
<rect x="1163.0" y="323" width="1" height="23" fill="#2e8b77"/>
<rect x="1161.0" y="331" width="5" height="2" fill="#2e8b77"/>
</g>
<rect x="254.5" y="305.5" width="979.4" height="11" fill="none" stroke="#a69500" stroke-width="3"/>
<line x1="769" y1="500.9" x2="1228" y2="397.1" stroke="#ff8c00" stroke-width="1.8" stroke-linecap="round"/>
<g stroke="#000" stroke-width="1" shape-rendering="crispEdges">
<line x1="27" x2="1260" y1="50.5" y2="50.5"/>
<line x1="27" x2="1260" y1="221.5" y2="221.5"/>
<line x1="27" x2="1260" y1="274.5" y2="274.5"/>
<line x1="27" x2="1260" y1="327.5" y2="327.5"/>
<line x1="27" x2="1260" y1="393.5" y2="393.5"/>
<line x1="27" x2="1260" y1="499.5" y2="499.5"/>
</g>
<g font-size="11px" fill="#111">
<text x="27" y="49.0">100.0%</text>
<text x="27" y="220.0">61.8%</text>
<text x="27" y="273.0">50.0%</text>
<text x="27" y="326.0">38.2%</text>
<text x="27" y="392.0">23.6%</text>
<text x="27" y="498.0">0.0%</text>
</g>
<line x1="1" x2="1260" y1="331.5" y2="331.5" stroke="#3a5688" stroke-width="1.2"/>
<rect x="5" y="5" width="77" height="22" fill="#000" fill-opacity="0.6"/><rect x="5" y="5" width="3" height="22" fill="#2e8b77"/>
<text x="17" y="21" font-size="11px" font-weight="bold" fill="#fff">GBP/JPY</text>
<rect x="1" y="522" width="1162.5" height="19.5" fill="#00ff00" fill-opacity="0.5"/>
<rect x="1" y="568.5" width="1162.5" height="19.8" fill="#ff0000" fill-opacity="0.5"/>
<g stroke="#000" stroke-width="1"><line x1="1" x2="1164" y1="541.5" y2="541.5" stroke-opacity="0.55"/><line x1="1" x2="1164" y1="541.5" y2="541.5" stroke-dasharray="4.41,1"/><line x1="1" x2="1164" y1="568.5" y2="568.5" stroke-opacity="0.55"/><line x1="1" x2="1164" y1="568.5" y2="568.5" stroke-dasharray="4.41,1"/><line x1="1163.5" x2="1163.5" y1="522" y2="542"/><line x1="1163.5" x2="1163.5" y1="568" y2="588.3"/><line x1="0.6" x2="0.6" y1="522" y2="541.4"/><line x1="0.6" x2="0.6" y1="568.3" y2="588.3"/></g>
<polyline points="0.5,546.7 5.5,546.1 10.5,545.6 16.5,545.0 21.5,543.3 27.5,541.3 32.5,548.0 37.5,555.5 43.5,559.7 48.5,561.2 54.5,559.2 59.5,561.7 65.5,562.5 70.5,559.3 75.5,559.7 81.5,558.7 86.5,560.2 92.5,559.3 97.5,557.5 102.5,559.7 108.5,560.0 113.5,556.7 119.5,558.0 124.5,555.3 129.5,560.0 135.5,561.0 140.5,560.0 146.5,558.0 151.5,557.2 156.5,556.7 162.5,563.7 167.5,567.7 173.5,567.5 178.5,559.3 184.5,559.3 189.5,558.3 194.5,553.3 200.5,554.9 205.5,557.4 211.5,555.8 216.5,557.8 221.5,560.6 227.5,564.3 232.5,563.8 238.5,562.7 243.5,562.2 248.5,561.7 254.5,564.7 259.5,563.0 265.5,559.0 270.5,559.3 276.5,563.5 281.5,561.2 286.5,564.7 292.5,567.7 297.5,564.2 303.5,562.8 308.5,558.0 313.5,560.5 319.5,555.3 324.5,556.7 330.5,560.8 335.5,564.3 340.5,562.5 346.5,554.5 351.5,558.0 357.5,553.0 362.5,554.7 367.5,553.8 373.5,553.5 378.5,554.2 384.5,556.7 389.5,556.0 395.5,554.3 400.5,553.5 405.5,549.3 411.5,549.0 416.5,546.7 422.5,551.6 427.5,552.0 432.5,550.7 438.5,550.3 443.5,551.3 449.5,556.0 454.5,552.7 459.5,557.8 465.5,556.2 470.5,557.0 476.5,558.3 481.5,561.3 487.5,561.0 492.5,560.3 497.5,560.8 503.5,559.7 508.5,566.7 514.5,567.7 519.5,563.7 524.5,565.3 530.5,567.2 535.5,570.5 541.5,571.7 546.5,572.5 551.5,572.5 557.5,573.3 562.5,576.7 568.5,576.7 573.5,578.0 578.5,570.0 584.5,568.0 589.5,569.3 595.5,562.5 600.5,563.1 606.5,563.8 611.5,564.7 616.5,563.0 622.5,566.0 627.5,564.0 633.5,566.3 638.5,564.2 643.5,559.5 649.5,560.7 654.5,562.2 660.5,562.5 665.5,565.5 670.5,562.0 676.5,558.8 681.5,556.7 687.5,558.3 692.5,556.3 697.5,556.3 703.5,562.0 708.5,558.0 714.5,558.5 719.5,557.5 725.5,559.3 730.5,558.5 735.5,555.7 741.5,557.5 746.5,558.3 752.5,557.2 757.5,556.7 762.5,559.7 768.5,557.5 773.5,560.3 779.5,562.5 784.5,557.2 789.5,556.8 795.5,558.7 800.5,557.5 806.5,555.4 811.5,557.2 817.5,555.6 822.5,553.7 827.5,550.5 833.5,548.3 838.5,544.5 844.5,546.3 849.5,543.7 854.5,546.2 860.5,545.2 865.5,546.3 871.5,546.0 876.5,544.2 881.5,545.3 887.5,545.2 892.5,543.7 898.5,541.2 903.5,547.5 908.5,550.0 914.5,551.3 919.5,549.3 925.5,550.0 930.5,547.8 936.5,551.0 941.5,546.7 946.5,543.7 952.5,541.7 957.5,544.5 963.5,547.0 968.5,551.3 973.5,550.8 979.5,549.8 984.5,551.2 990.5,551.3 995.5,547.8 1000.5,547.4 1006.5,549.3 1011.5,550.7 1017.5,555.5 1022.5,556.2 1028.5,554.5 1033.5,554.7 1038.5,559.3 1044.5,557.0 1049.5,558.0 1055.5,560.0 1060.5,563.0 1065.5,565.3 1071.5,558.0 1076.5,560.5 1082.5,555.3 1087.5,556.8 1092.5,547.5 1098.5,551.2 1103.5,552.7 1109.5,550.5 1114.5,554.5 1119.5,552.0 1125.5,552.0 1130.5,550.2 1136.5,547.5 1141.5,551.0 1147.5,552.0 1152.5,551.2 1157.5,549.5 1163.5,549.2" fill="none" stroke="#2a3cff" stroke-width="1.2" stroke-linejoin="round" clip-path="url(#cr)"/>
<rect x="5" y="525" width="111" height="21.7" fill="#000" fill-opacity="0.6"/><rect x="5" y="525" width="3" height="21.7" fill="#00ff00"/>
<text x="17" y="540.9" font-size="11px" font-weight="bold" fill="#fff">RSI (14,70,30,1)</text>
<g stroke="#666" stroke-width="1"><line x1="620" x2="640" y1="514.5" y2="514.5"/><line x1="620" x2="640" y1="516.5" y2="516.5"/><line x1="620" x2="640" y1="518.5" y2="518.5"/></g>
<g stroke="#8a8a90" stroke-width="1">
<line x1="1261" x2="1266" y1="28.50" y2="28.50"/>
<line x1="1261" x2="1266" y1="57.50" y2="57.50"/>
<line x1="1261" x2="1266" y1="85.50" y2="85.50"/>
<line x1="1261" x2="1266" y1="114.50" y2="114.50"/>
<line x1="1261" x2="1266" y1="143.50" y2="143.50"/>
<line x1="1261" x2="1266" y1="172.50" y2="172.50"/>
<line x1="1261" x2="1266" y1="201.50" y2="201.50"/>
<line x1="1261" x2="1266" y1="229.50" y2="229.50"/>
<line x1="1261" x2="1266" y1="258.50" y2="258.50"/>
<line x1="1261" x2="1266" y1="287.50" y2="287.50"/>
<line x1="1261" x2="1266" y1="316.50" y2="316.50"/>
<line x1="1261" x2="1266" y1="344.50" y2="344.50"/>
<line x1="1261" x2="1266" y1="373.50" y2="373.50"/>
<line x1="1261" x2="1266" y1="402.50" y2="402.50"/>
<line x1="1261" x2="1266" y1="431.50" y2="431.50"/>
<line x1="1261" x2="1266" y1="459.50" y2="459.50"/>
<line x1="1261" x2="1266" y1="488.50" y2="488.50"/>
<line x1="1261" x2="1266" y1="555.5" y2="555.5"/><line x1="1261" x2="1266" y1="588.5" y2="588.5"/>
</g>
<g font-size="11px" fill="#555555">
<text x="1268.5" y="32.5">139.8000</text>
<text x="1268.5" y="61.2">139.6000</text>
<text x="1268.5" y="89.9">139.4000</text>
<text x="1268.5" y="118.7">139.2000</text>
<text x="1268.5" y="147.4">139.0000</text>
<text x="1268.5" y="176.2">138.8000</text>
<text x="1268.5" y="204.9">138.6000</text>
<text x="1268.5" y="233.6">138.4000</text>
<text x="1268.5" y="262.4">138.2000</text>
<text x="1268.5" y="291.1">138.0000</text>
<text x="1268.5" y="319.9">137.8000</text>
<text x="1268.5" y="348.6">137.6000</text>
<text x="1268.5" y="377.3">137.4000</text>
<text x="1268.5" y="406.1">137.2000</text>
<text x="1268.5" y="434.8">137.0000</text>
<text x="1268.5" y="463.6">136.8000</text>
<text x="1268.5" y="492.3">136.6000</text>
<text x="1268.5" y="558.7">50.0000</text><text x="1268.5" y="591.7">0.0000</text>
</g>
<path d="M1261,331.5 L1264,328.5 L1264,324.5 L1318.5,324.5 L1318.5,338.5 L1264,338.5 L1264,334.5 Z" fill="#2f4a73"/>
<text x="1268.5" y="335.2" font-size="11px" font-weight="bold" fill="#fff">137.6945</text>
<g stroke="#555555" stroke-width="1">
<line x1="0.5" x2="0.5" y1="589" y2="591.5"/>
<line x1="124.5" x2="124.5" y1="589" y2="591.5"/>
<line x1="254.3" x2="254.3" y1="589" y2="591.5"/>
<line x1="384.2" x2="384.2" y1="589" y2="591.5"/>
<line x1="514.2" x2="514.2" y1="589" y2="591.5"/>
<line x1="627.6" x2="627.6" y1="589" y2="591.5"/>
<line x1="643.9" x2="643.9" y1="589" y2="591.5"/>
<line x1="773.8" x2="773.8" y1="589" y2="591.5"/>
<line x1="903.7" x2="903.7" y1="589" y2="591.5"/>
<line x1="1033.7" x2="1033.7" y1="589" y2="591.5"/>
<line x1="1163.5" x2="1163.5" y1="589" y2="591.5"/>
</g>
<g font-size="11px" fill="#555555" text-anchor="middle">
<text x="0" y="605.5" text-anchor="start">May</text>
<text x="124.5" y="605.5">28</text>
<text x="254.3" y="605.5">29</text>
<text x="384.2" y="605.5">30</text>
<text x="514.2" y="605.5">31</text>
<text x="627.6" y="605.5">Jun</text>
<text x="643.9" y="605.5">3</text>
<text x="773.8" y="605.5">4</text>
<text x="903.7" y="605.5">5</text>
<text x="1033.7" y="605.5">6</text>
<text x="1163.5" y="605.5">7</text>
</g>
</svg></body></html>
